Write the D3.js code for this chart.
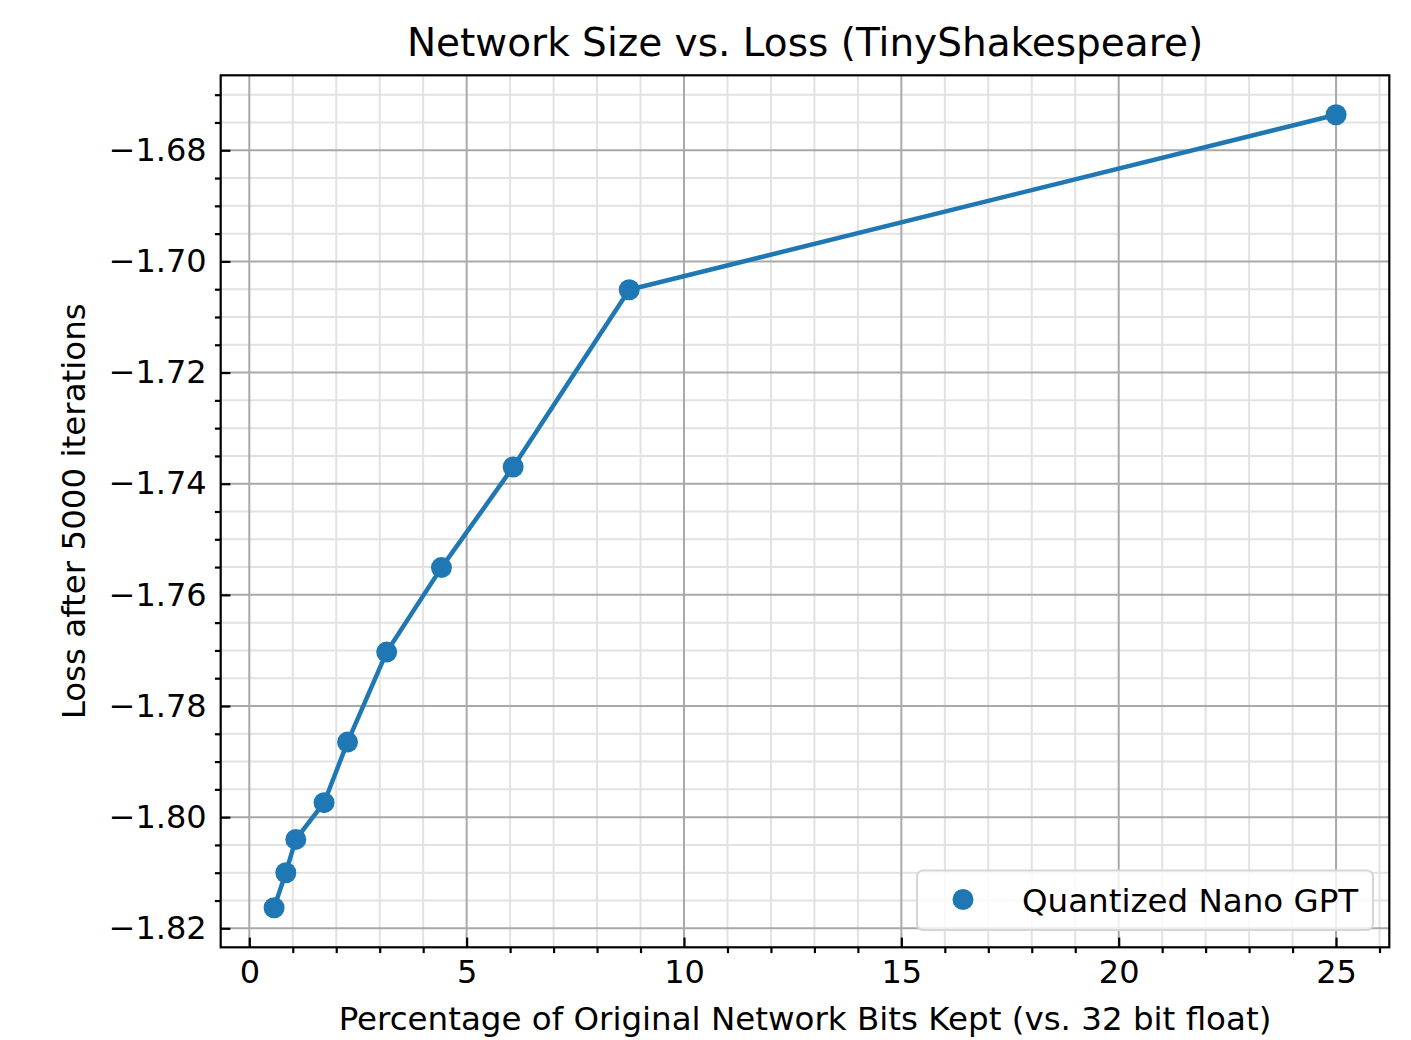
<!DOCTYPE html>
<html>
  <head>
    <meta charset="utf-8" />
    <title>Network Size vs. Loss (TinyShakespeare)</title>
    <style>
      body,
      html {
        margin: 0;
        padding: 0;
        background: #fff;
      }
      svg text {
        font-family: 'DejaVu Sans', sans-serif;
        fill: #000;
      }
    </style>
  </head>
  <body>
    <svg id="svg" width="1411" height="1040"></svg>
    <script src="https://cdn.jsdelivr.net/npm/d3@7"></script>
    <script>
      // data
      const bitsKept = [0.57, 0.84, 1.07, 1.72, 2.26, 3.16, 4.42, 6.07, 8.74, 25.0];
      const loss = [-1.8163, -1.81, -1.804, -1.7974, -1.7865, -1.7703, -1.7551, -1.737, -1.7051, -1.6736];
      const xTicks = [0, 5, 10, 15, 20, 25];
      const yTicks = [-1.82, -1.8, -1.78, -1.76, -1.74, -1.72, -1.7, -1.68];
      const seriesName = 'Quantized Nano GPT';

      const points = bitsKept.map((x, i) => ({ x, y: loss[i] }));

      const plotLeft = 220.7;
      const plotRight = 1389.3;
      const plotTop = 75.3;
      const plotBottom = 947.3;
      const blue = '#1f77b4';
      const labelSize = 32.5;

      const xScale = d3.scaleLinear().domain([-0.658, 26.225]).range([plotLeft, plotRight]);
      const yScale = d3.scaleLinear().domain([-1.82342, -1.66651]).range([plotBottom, plotTop]);

      const xMinor = d3.range(0, 27, 1).filter((v) => xScale(v) <= plotRight && !xTicks.includes(v));
      const yMinor = d3.range(-1.82, -1.665, 0.005)
        .map((v) => +v.toFixed(3))
        .filter((v) => yScale(v) >= plotTop && !yTicks.some((t) => Math.abs(t - v) < 1e-6));

      const svg = d3.select('#svg');

      // minor grid
      const grid = svg.append('g');
      grid.selectAll('.xminor').data(xMinor).enter().append('line')
        .attr('x1', (d) => xScale(d)).attr('x2', (d) => xScale(d))
        .attr('y1', plotTop).attr('y2', plotBottom)
        .attr('stroke', '#e2e2e2').attr('stroke-width', 2);
      grid.selectAll('.yminor').data(yMinor).enter().append('line')
        .attr('y1', (d) => yScale(d)).attr('y2', (d) => yScale(d))
        .attr('x1', plotLeft).attr('x2', plotRight)
        .attr('stroke', '#e2e2e2').attr('stroke-width', 2);
      // major grid
      grid.selectAll('.xmajor').data(xTicks).enter().append('line')
        .attr('x1', (d) => xScale(d)).attr('x2', (d) => xScale(d))
        .attr('y1', plotTop).attr('y2', plotBottom)
        .attr('stroke', '#a9a9a9').attr('stroke-width', 2);
      grid.selectAll('.ymajor').data(yTicks).enter().append('line')
        .attr('y1', (d) => yScale(d)).attr('y2', (d) => yScale(d))
        .attr('x1', plotLeft).attr('x2', plotRight)
        .attr('stroke', '#a9a9a9').attr('stroke-width', 2);

      // line + markers
      const line = d3.line().x((d) => xScale(d.x)).y((d) => yScale(d.y));
      svg.append('path')
        .attr('d', line(points))
        .attr('fill', 'none')
        .attr('stroke', blue)
        .attr('stroke-width', 4.5)
        .attr('stroke-linejoin', 'round');
      svg.selectAll('.dot').data(points).enter().append('circle')
        .attr('cx', (d) => xScale(d.x))
        .attr('cy', (d) => yScale(d.y))
        .attr('r', 10.5)
        .attr('fill', blue);

      // axes: major ticks point inward, minor ticks outward
      const xAxis = svg.append('g')
        .attr('transform', `translate(0, ${plotBottom})`)
        .call(d3.axisBottom(xScale).tickValues(xTicks).tickSize(-9.7).tickFormat(d3.format('d')));
      xAxis.selectAll('text').attr('y', 36).attr('dy', 0);
      const xAxisMinor = svg.append('g')
        .attr('transform', `translate(0, ${plotBottom})`)
        .call(d3.axisBottom(xScale).tickValues(xMinor).tickSize(5.8).tickFormat(''));
      const yAxis = svg.append('g')
        .attr('transform', `translate(${plotLeft}, 0)`)
        .call(d3.axisLeft(yScale).tickValues(yTicks).tickSize(-9.7).tickPadding(14).tickFormat(d3.format('.2f')));
      const yAxisMinor = svg.append('g')
        .attr('transform', `translate(${plotLeft}, 0)`)
        .call(d3.axisLeft(yScale).tickValues(yMinor).tickSize(5.8).tickFormat(''));

      [xAxis, xAxisMinor, yAxis, yAxisMinor].forEach((g) => {
        g.select('.domain').remove();
        g.selectAll('line').attr('stroke', '#000').attr('stroke-width', 2.2);
        g.selectAll('text').attr('font-size', 32).attr('font-family', 'DejaVu Sans').attr('fill', '#000');
      });

      // spines
      svg.append('rect')
        .attr('x', plotLeft).attr('y', plotTop)
        .attr('width', plotRight - plotLeft).attr('height', plotBottom - plotTop)
        .attr('fill', 'none').attr('stroke', '#000').attr('stroke-width', 2.2);

      // legend
      const legend = svg.append('g');
      legend.append('rect')
        .attr('x', 917).attr('y', 870.5)
        .attr('width', 456).attr('height', 59.5)
        .attr('rx', 6)
        .attr('fill', 'rgba(255,255,255,0.8)')
        .attr('stroke', '#d6d6d6').attr('stroke-width', 2);
      legend.append('circle').attr('cx', 963).attr('cy', 899.5).attr('r', 10.5).attr('fill', blue);
      legend.append('text')
        .attr('x', 1022).attr('y', 911.5)
        .attr('font-size', labelSize)
        .text(seriesName);

      // title + labels
      svg.append('text')
        .attr('x', (plotLeft + plotRight) / 2).attr('y', 56)
        .attr('text-anchor', 'middle').attr('font-size', 39)
        .text('Network Size vs. Loss (TinyShakespeare)');
      svg.append('text')
        .attr('x', (plotLeft + plotRight) / 2).attr('y', 1030)
        .attr('text-anchor', 'middle').attr('font-size', labelSize)
        .text('Percentage of Original Network Bits Kept (vs. 32 bit float)');
      svg.append('text')
        .attr('transform', `translate(85, ${(plotTop + plotBottom) / 2}) rotate(-90)`)
        .attr('text-anchor', 'middle').attr('font-size', labelSize)
        .text('Loss after 5000 iterations');
    </script>
  </body>
</html>
